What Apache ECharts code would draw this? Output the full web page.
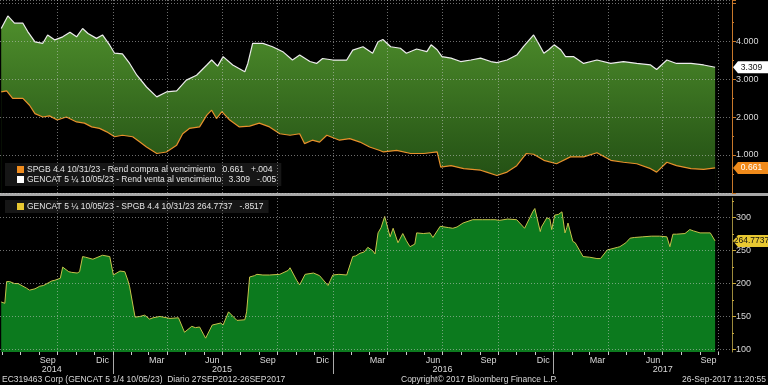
<!DOCTYPE html>
<html><head><meta charset="utf-8">
<script src="https://cdn.jsdelivr.net/npm/echarts@6/dist/echarts.min.js"></script>
<style>html,body{margin:0;padding:0;background:#000;overflow:hidden}#c{width:768px;height:385px;}</style>
</head><body><div id="c"></div><script>
// GENCAT 5 1/4 10/05/23 - yield (white line)
const gencatDates = ['2014-06-30','2014-07-11','2014-07-22','2014-08-05','2014-08-13','2014-08-25','2014-09-07','2014-09-15','2014-09-27','2014-10-10','2014-10-22','2014-11-02','2014-11-12','2014-11-21','2014-12-05','2014-12-15','2014-12-27',
'2015-01-04','2015-01-17','2015-01-29','2015-02-10','2015-02-26','2015-03-15','2015-03-31','2015-04-17','2015-05-03','2015-05-20','2015-06-06','2015-06-14','2015-06-24','2015-07-03','2015-07-19','2015-08-08','2015-08-13','2015-08-21','2015-09-07','2015-09-23','2015-10-10','2015-10-26','2015-11-07','2015-11-24','2015-12-05','2015-12-15',
'2016-01-01','2016-01-24','2016-02-03','2016-02-20','2016-03-07','2016-03-16','2016-03-24','2016-04-06','2016-04-22','2016-05-02','2016-05-19','2016-06-05','2016-06-12','2016-06-22','2016-06-30','2016-07-15','2016-07-31','2016-08-17','2016-09-02','2016-09-19','2016-09-29','2016-10-16','2016-11-01','2016-11-12','2016-11-24','2016-11-29','2016-12-07','2016-12-16','2016-12-24',
'2017-01-02','2017-01-13','2017-01-21','2017-02-03','2017-02-20','2017-03-14','2017-04-06','2017-04-27','2017-05-19','2017-06-11','2017-06-21','2017-07-08','2017-07-24','2017-08-17','2017-09-07','2017-09-26'];
const gencatYield = [4.33,4.66,4.47,4.47,4.25,3.98,3.94,4.16,4.03,4.11,
4.23,4.11,4.33,4.20,4.07,4.16,3.89,3.68,3.66,3.41,
3.10,2.79,2.53,2.66,2.69,2.97,3.10,3.37,3.50,3.34,
3.59,3.37,3.19,3.41,3.94,3.94,3.85,3.72,3.50,3.63,
3.46,3.41,3.54,3.50,3.50,3.76,3.85,3.68,3.98,4.04,
3.85,3.81,3.68,3.79,3.72,3.90,3.77,3.59,3.55,3.46,
3.50,3.55,3.46,3.43,3.50,3.63,3.85,4.07,4.16,3.94,
3.68,3.77,3.90,3.77,3.59,3.59,3.41,3.50,3.41,3.46,
3.41,3.37,3.25,3.50,3.41,3.41,3.37,3.309];

// SPGB 4.4 10/31/23 - yield (orange line)
const spgbDates = ['2014-06-30','2014-07-09','2014-07-19','2014-08-05','2014-08-16','2014-08-25','2014-09-07','2014-09-18','2014-10-01','2014-10-16','2014-11-02','2014-11-15','2014-11-27','2014-12-10','2014-12-22',
'2015-01-04','2015-01-17','2015-02-03','2015-02-15','2015-02-26','2015-03-15','2015-03-31','2015-04-17','2015-04-27','2015-05-08','2015-05-25','2015-06-06','2015-06-14','2015-06-22','2015-07-01','2015-07-14','2015-07-30','2015-08-16','2015-09-01','2015-09-18','2015-10-05','2015-10-22','2015-11-07','2015-11-15','2015-11-28','2015-12-10','2015-12-22',
'2016-01-12','2016-01-29','2016-02-15','2016-03-02','2016-03-19','2016-03-25','2016-04-16','2016-05-09','2016-05-31','2016-06-22','2016-06-28','2016-07-15','2016-08-05','2016-09-02','2016-09-12','2016-09-29','2016-10-16','2016-11-01','2016-11-17','2016-11-29','2016-12-16',
'2017-01-06','2017-01-29','2017-02-20','2017-03-14','2017-04-06','2017-04-27','2017-05-19','2017-06-11','2017-06-21','2017-07-08','2017-07-24','2017-08-17','2017-09-07','2017-09-26'];
const spgbYield = [2.66,2.69,2.49,2.49,2.31,2.09,2.00,2.03,1.92,2.00,
1.87,1.84,1.74,1.70,1.61,1.48,1.52,1.48,1.34,1.21,
1.04,1.08,1.26,1.56,1.70,1.74,2.05,2.18,1.96,2.14,
1.92,1.74,1.76,1.84,1.74,1.56,1.52,1.56,1.30,1.39,
1.34,1.52,1.39,1.43,1.34,1.21,1.12,1.08,1.12,1.04,
1.04,1.08,0.68,0.72,0.64,0.60,0.55,0.46,0.55,0.72,
1.04,1.02,0.86,0.77,0.95,0.95,1.06,0.86,0.81,0.77,
0.64,0.55,0.81,0.72,0.64,0.62,0.661];

// GENCAT - SPGB spread (bottom panel)
const spreadDates = ['2014-06-30','2014-07-06','2014-07-09','2014-07-14','2014-07-22','2014-07-28','2014-08-11','2014-08-16','2014-08-25','2014-09-02','2014-09-08','2014-09-22','2014-09-27','2014-10-06','2014-10-10','2014-10-20','2014-10-25','2014-11-03','2014-11-07','2014-11-12','2014-11-17','2014-11-29','2014-12-01','2014-12-15','2014-12-27','2014-12-29',
'2015-01-02','2015-01-13','2015-01-21','2015-01-26','2015-01-29','2015-02-07','2015-02-15','2015-02-23','2015-03-03','2015-03-09','2015-03-20','2015-04-06','2015-04-20','2015-04-30','2015-05-12','2015-05-18','2015-05-25','2015-06-01','2015-06-04','2015-06-15','2015-06-29','2015-07-03','2015-07-12','2015-07-26','2015-08-08','2015-08-11','2015-08-16','2015-08-24','2015-08-28','2015-09-07','2015-09-18','2015-09-21','2015-10-05','2015-10-19','2015-10-22','2015-11-02','2015-11-07','2015-11-16','2015-11-30','2015-12-10','2015-12-24','2015-12-28',
'2016-01-01','2016-01-11','2016-01-24','2016-02-03','2016-02-08','2016-02-15','2016-02-22','2016-02-28','2016-03-07','2016-03-11','2016-03-16','2016-03-21','2016-03-27','2016-04-05','2016-04-10','2016-04-18','2016-04-26','2016-05-02','2016-05-08','2016-05-16','2016-05-19','2016-05-30','2016-06-10','2016-06-15','2016-06-27','2016-06-30','2016-07-11','2016-07-18','2016-07-25','2016-08-04','2016-08-20','2016-09-05','2016-09-19','2016-09-26','2016-10-03','2016-10-17','2016-11-01','2016-11-14','2016-11-28','2016-12-01','2016-12-10','2016-12-12','2016-12-21','2016-12-26','2016-12-29',
'2017-01-03','2017-01-09','2017-01-15','2017-01-20','2017-01-23','2017-01-25','2017-02-02','2017-02-06','2017-02-19','2017-03-02','2017-03-14','2017-03-20','2017-03-31','2017-04-17','2017-04-21','2017-05-01','2017-05-08','2017-05-15','2017-05-29','2017-06-12','2017-06-26','2017-07-08','2017-07-13','2017-07-18','2017-07-24','2017-08-07','2017-08-10','2017-08-15','2017-08-21','2017-09-01','2017-09-18','2017-09-26'];
const spread = [172,170,203,203,200,200,193,190,192,196,197,204,205,208,225,218,217,216,218,241,240,237,236,243,241,240,
213,219,218,205,195,149,150,152,146,148,150,147,148,126,135,133,134,122,117,137,140,137,157,144,145,157,210,212,214,213,213,215,214,220,224,205,198,214,216,212,197,205,
213,214,213,241,242,246,248,255,250,245,277,285,302,271,284,262,276,265,256,260,277,276,277,270,287,289,285,284,286,292,297,297,297,297,296,298,297,284,310,314,279,286,300,298,282,
304,305,309,277,285,292,264,262,241,240,238,238,251,255,256,262,269,270,271,272,272,271,256,275,275,276,275,282,280,277,277,264.7737];

const seriesNames = ['SPGB 4.4 10/31/23 - Rend compra al vencimiento', 'GENCAT 5 \u00BC 10/05/23 - Rend venta al vencimiento', 'GENCAT 5 \u00BC 10/05/23 - SPGB 4.4 10/31/23'];
const legendValues = ['0.661   +.004', '3.309   -.005', '264.7737   -.8517'];
const tagTexts = ['0.661', '3.309', '264.7737'];

const monthLabelDates = ['2014-09-15','2014-12-15','2015-03-15','2015-06-15','2015-09-15','2015-12-15','2016-03-15','2016-06-15','2016-09-15','2016-12-15','2017-03-15','2017-06-15','2017-09-15'];
const monthLabelNames = ['Sep','Dic','Mar','Jun','Sep','Dic','Mar','Jun','Sep','Dic','Mar','Jun','Sep'];
const monthTickDates = ['2014-07-01','2014-08-01','2014-09-01','2014-10-01','2014-11-01','2014-12-01','2015-01-01','2015-02-01','2015-03-01','2015-04-01','2015-05-01','2015-06-01','2015-07-01','2015-08-01','2015-09-01','2015-10-01','2015-11-01','2015-12-01','2016-01-01','2016-02-01','2016-03-01','2016-04-01','2016-05-01','2016-06-01','2016-07-01','2016-08-01','2016-09-01','2016-10-01','2016-11-01','2016-12-01','2017-01-01','2017-02-01','2017-03-01','2017-04-01','2017-05-01','2017-06-01','2017-07-01','2017-08-01','2017-09-01','2017-10-01'];
const quarterGridDates = ['2014-10-01','2015-01-01','2015-04-01','2015-07-01','2015-10-01','2016-01-01','2016-04-01','2016-07-01','2016-10-01','2017-01-01','2017-04-01','2017-07-01','2017-10-01'];
const yearLabelDates = ['2014-09-22','2015-07-01','2016-07-01','2017-07-01'];
const yearLabelNames = ['2014','2015','2016','2017'];
const yearDividerDates = ['2015-01-01','2016-01-01','2017-01-01'];
const topAxisTicks = [1,2,3,4];
const bottomAxisTicks = [100,150,200,250,300];
const bottomMinorTicks = [125,175,225,275,325];

const xStart = '2014-06-28', xEnd = '2017-10-24';
const ts = s => Date.parse(s + 'T00:00:00Z');
const FONT = '"Liberation Sans",Arial,sans-serif';
const FS = 9;

const monthMap = {}; monthLabelDates.forEach((d,i)=>monthMap[ts(d)] = monthLabelNames[i]);
const yearMap = {}; yearLabelDates.forEach((d,i)=>yearMap[ts(d)] = yearLabelNames[i]);
const pairs = (ds, vs) => ds.map((d,i)=>[ts(d), vs[i]]);

const gridLine = {show:true, lineStyle:{color:'rgba(200,200,200,0.55)', type:[1,2], width:1}};
const xBase = {type:'value', min: ts(xStart), max: ts(xEnd), axisLine:{show:false}, axisLabel:{show:false}};

const tag = (val, txt, bg, fg) => ({
  symbol: 'path://M0,6L6,0H46V12H6Z', symbolSize:[38,12], symbolOffset:[20,0], silent:true,
  itemStyle:{color:bg},
  label:{show:true, position:'inside', color:fg, fontSize:8.5, fontFamily:FONT, formatter: txt, offset:[-0.5,0]},
  data:[{coord:[ts(xEnd), val]}]
});

const chart = echarts.init(document.getElementById('c'));
chart.setOption({
  backgroundColor:'#000',
  animation:false,
  grid:[{left:0, top:0, width:732, height:193}, {left:0, top:198, width:732, height:154}],
  xAxis:[
    Object.assign({}, xBase, {gridIndex:0, z:5, axisTick:{show:false, customValues: quarterGridDates.map(ts)}, splitLine:gridLine}),
    Object.assign({}, xBase, {gridIndex:1, z:5, axisTick:{show:false, customValues: quarterGridDates.map(ts)}, splitLine:gridLine}),
    Object.assign({}, xBase, {gridIndex:1, position:'bottom', offset:0, splitLine:{show:false},
      axisTick:{show:true, length:3, lineStyle:{color:'#ccc'}, customValues: monthTickDates.map(ts)},
      axisLabel:{show:true, color:'#d8d8d8', fontSize:FS, fontFamily:FONT, margin:4, customValues: monthLabelDates.map(ts), formatter: v => monthMap[v] || ''}}),
    Object.assign({}, xBase, {gridIndex:1, position:'bottom', offset:22, splitLine:{show:false},
      axisTick:{show:true, inside:true, length:19, lineStyle:{color:'#aaa'}, customValues: yearDividerDates.map(ts)},
      axisLabel:{show:true, inside:true, color:'#d8d8d8', fontSize:FS, fontFamily:FONT, margin:0, customValues: yearLabelDates.map(ts), formatter: v => yearMap[v] || ''}})
  ],
  yAxis:[
    {type:'value', gridIndex:0, position:'right', min:0, max:5.08, interval:1, z:5,
     axisLine:{show:true, lineStyle:{color:'#c8782a'}},
     axisTick:{show:true, length:4, lineStyle:{color:'#c8782a'}},
     minorTick:{show:true, splitNumber:2, length:2, lineStyle:{color:'#c8782a'}},
     axisLabel:{color:'#d8d8d8', fontSize:FS, fontFamily:FONT, margin:4, formatter: v => topAxisTicks.indexOf(v) >= 0 ? v.toFixed(3) : ''},
     splitLine:gridLine},
    {type:'value', gridIndex:1, position:'right', min:96, max:330, z:5,
     axisLine:{show:true, lineStyle:{color:'#9c8a3c'}},
     axisTick:{show:true, length:4, lineStyle:{color:'#c8a83c'}, customValues: bottomAxisTicks},
     axisLabel:{color:'#d8d8d8', fontSize:FS, fontFamily:FONT, margin:4, customValues: bottomAxisTicks},
     splitLine:gridLine},
    {type:'value', gridIndex:1, position:'right', min:96, max:330, z:5,
     axisLine:{show:false},
     axisTick:{show:true, length:2, lineStyle:{color:'#c8a83c'}, customValues: bottomMinorTicks},
     axisLabel:{show:false},
     splitLine:{show:false}}
  ],
  legend:[
    {data:[seriesNames[0], seriesNames[1]], orient:'vertical', left:5, top:163, icon:'rect', itemWidth:7, itemHeight:7, itemGap:1,
     padding:[2,5,2,12], backgroundColor:'#161616', textStyle:{color:'#e4e4e4', fontSize:8.5, fontFamily:FONT, padding:[0,0,0,-2]},
     formatter: n => n + '   ' + legendValues[seriesNames.indexOf(n)], selectedMode:false},
    {data:[seriesNames[2]], orient:'vertical', left:5, top:200, icon:'rect', itemWidth:7, itemHeight:7,
     padding:[2,5,2,12], backgroundColor:'#161616', textStyle:{color:'#e4e4e4', fontSize:8.5, fontFamily:FONT, padding:[0,0,0,-2]},
     formatter: n => n + ' ' + legendValues[2], selectedMode:false}
  ],
  title:[
    {text:'EC319463 Corp (GENCAT 5 1/4 10/05/23)  Diario 27SEP2012-26SEP2017', left:2, top:375, padding:0, textStyle:{color:'#d8d8d8', fontSize:8.5, fontWeight:'normal', fontFamily:FONT}},
    {text:'Copyright\u00A9 2017 Bloomberg Finance L.P.', left:401, top:375, padding:0, textStyle:{color:'#d8d8d8', fontSize:8.5, fontWeight:'normal', fontFamily:FONT}},
    {text:'26-Sep-2017 11:20:55', right:2, top:375, padding:0, textStyle:{color:'#d8d8d8', fontSize:8.5, fontWeight:'normal', fontFamily:FONT}}
  ],
  graphic:[{type:'rect', left:0, top:193, shape:{width:768, height:3}, style:{fill:'#a8a8a8'}, silent:true}],
  series:[
    {name:seriesNames[1], type:'line', xAxisIndex:0, yAxisIndex:0, z:2, clip:false, showSymbol:false,
     data: pairs(gencatDates, gencatYield),
     lineStyle:{color:'#ececec', width:1.2}, itemStyle:{color:'#ffffff'},
     areaStyle:{opacity:1, color:new echarts.graphic.LinearGradient(0,0,0,1,[{offset:0,color:'#4f8f2c'},{offset:1,color:'#1f4a12'}])},
     markPoint: tag(gencatYield[gencatYield.length-1], tagTexts[1], '#ffffff', '#111')},
    {name:seriesNames[0], type:'line', xAxisIndex:0, yAxisIndex:0, z:3, clip:false, showSymbol:false,
     data: pairs(spgbDates, spgbYield),
     lineStyle:{color:'#e8902c', width:1.2}, itemStyle:{color:'#f08c1e'},
     areaStyle:{opacity:1, color:'#000'},
     markPoint: tag(spgbYield[spgbYield.length-1], tagTexts[0], '#f08a1a', '#fff')},
    {name:seriesNames[2], type:'line', xAxisIndex:1, yAxisIndex:1, z:2, clip:false, showSymbol:false,
     data: pairs(spreadDates, spread),
     lineStyle:{color:'#c6c24a', width:1}, itemStyle:{color:'#e8c832'},
     areaStyle:{opacity:1, color:'#0c7a1e'},
     markPoint: tag(spread[spread.length-1], tagTexts[2], '#e8c832', '#111')}
  ]
});
</script></body></html>
